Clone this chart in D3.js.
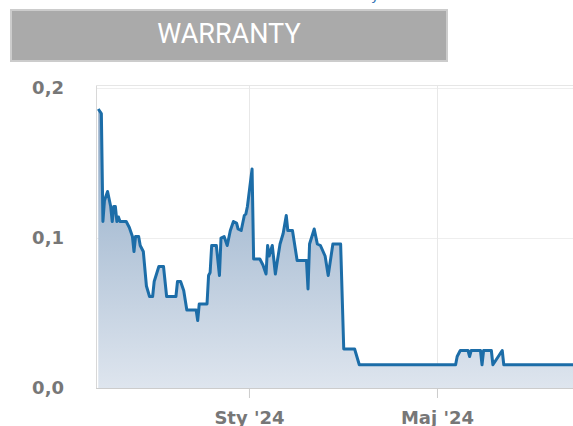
<!DOCTYPE html>
<html>
<head>
<meta charset="utf-8">
<script src="https://cdn.jsdelivr.net/npm/d3@7"></script>
<style>
  html, body { margin: 0; padding: 0; background: #fff; overflow: hidden; }
  svg { display: block; }
</style>
</head>
<body>
<svg id="chart" width="573" height="426"></svg>
<script>
// ---- data ----
const titleText = "WARRANTY";
const dates = [
  "2023-09-26","2023-09-28","2023-09-29","2023-09-30","2023-10-02","2023-10-04","2023-10-05","2023-10-06",
  "2023-10-07","2023-10-08","2023-10-09","2023-10-10","2023-10-14","2023-10-16","2023-10-18","2023-10-19",
  "2023-10-20","2023-10-22","2023-10-23","2023-10-25","2023-10-27","2023-10-29","2023-10-31","2023-11-01",
  "2023-11-04","2023-11-07","2023-11-09","2023-11-15","2023-11-16","2023-11-18","2023-11-20","2023-11-22",
  "2023-11-28","2023-11-29","2023-11-30","2023-12-05","2023-12-06","2023-12-07","2023-12-08","2023-12-11",
  "2023-12-13","2023-12-14","2023-12-16","2023-12-18","2023-12-20","2023-12-22","2023-12-24","2023-12-25",
  "2023-12-27","2023-12-29","2023-12-30","2023-12-31","2024-01-03","2024-01-04","2024-01-08","2024-01-10",
  "2024-01-12","2024-01-13","2024-01-14","2024-01-16","2024-01-18","2024-01-19","2024-01-21","2024-01-23",
  "2024-01-25","2024-01-26","2024-01-29","2024-02-01","2024-02-07","2024-02-08","2024-02-09","2024-02-12",
  "2024-02-14","2024-02-16","2024-02-19","2024-02-21","2024-02-24","2024-02-29","2024-03-02","2024-03-09",
  "2024-03-12","2024-05-13","2024-05-14","2024-05-16","2024-05-21","2024-05-22","2024-05-23","2024-05-29",
  "2024-05-30","2024-05-31","2024-06-05","2024-06-06","2024-06-12","2024-06-13","2024-07-29"
];
const values = [
  0.186,0.183,0.111,0.125,0.131,0.121,0.111,0.121,
  0.121,0.111,0.114,0.111,0.111,0.107,0.101,0.091,
  0.101,0.101,0.095,0.091,0.068,0.061,0.061,0.071,
  0.081,0.081,0.061,0.061,0.071,0.071,0.065,0.052,
  0.052,0.045,0.056,0.056,0.075,0.077,0.095,0.095,
  0.075,0.100,0.101,0.095,0.105,0.111,0.110,0.106,
  0.105,0.115,0.116,0.121,0.146,0.086,0.086,0.082,
  0.076,0.095,0.088,0.095,0.076,0.083,0.096,0.103,
  0.115,0.105,0.105,0.085,0.085,0.066,0.096,0.106,
  0.096,0.095,0.088,0.075,0.096,0.096,0.026,0.026,
  0.0155,0.0155,0.021,0.025,0.025,0.021,0.025,0.025,
  0.0155,0.025,0.025,0.0155,0.025,0.0155,0.0155
];
const yTicks = [0, 0.1, 0.2];
const yTickLabels = ["0,0", "0,1", "0,2"];
const xTickDates = ["2024-01-01", "2024-05-01"];
const xTickLabels = ["Sty '24", "Maj '24"];
const xDomain = ["2023-09-25", "2024-07-28"];

// ---- layout ----
const svg = d3.select("#chart");
const plotLeft = 96, plotTop = 85, plotBottom = 388, plotRight = 573;
const parse = d3.utcParse("%Y-%m-%d");
const data = dates.map((d, i) => ({ date: parse(d), value: values[i] }));

const x = d3.scaleUtc().domain(xDomain.map(parse)).range([96.7, 573.7]);
const y = d3.scaleLinear().domain([0, 0.2]).range([plotBottom, 88]);

// title box
svg.append("rect")
  .attr("x", 11).attr("y", 10).attr("width", 436).attr("height", 51)
  .attr("fill", "#aaaaaa").attr("stroke", "#cccccc").attr("stroke-width", 2);
svg.append("text")
  .attr("x", 229).attr("y", 36)
  .attr("text-anchor", "middle").attr("dominant-baseline", "middle")
  .attr("font-family", "Roboto, 'Open Sans', sans-serif")
  .attr("font-size", 27).attr("fill", "#ffffff")
  .text(titleText);
// cropped link text fragment at top
svg.append("text")
  .attr("x", 371).attr("y", 0)
  .attr("font-family", "DejaVu Sans, sans-serif")
  .attr("font-size", 14).attr("fill", "#2f72b4")
  .text("y");

// gradient
const defs = svg.append("defs");
const grad = defs.append("linearGradient")
  .attr("id", "areaGrad").attr("gradientUnits", "userSpaceOnUse")
  .attr("x1", 0).attr("x2", 0).attr("y1", y(0.2)).attr("y2", y(0));
grad.append("stop").attr("offset", "0%").attr("stop-color", "#86a3c2");
grad.append("stop").attr("offset", "100%").attr("stop-color", "#dee5ee");
defs.append("clipPath").attr("id", "plotClip")
  .append("rect").attr("x", plotLeft).attr("y", plotTop)
  .attr("width", plotRight - plotLeft).attr("height", plotBottom - plotTop);

// gridlines
const grid = svg.append("g");
grid.selectAll("line.h").data(yTicks.filter(t => t > 0)).join("line")
  .attr("x1", plotLeft).attr("x2", plotRight)
  .attr("y1", d => Math.round(y(d)) + 0.5).attr("y2", d => Math.round(y(d)) + 0.5)
  .attr("stroke", "#eeeeee").attr("stroke-width", 1);
grid.selectAll("line.v").data(xTickDates.map(parse)).join("line")
  .attr("x1", d => Math.round(x(d)) + 0.5).attr("x2", d => Math.round(x(d)) + 0.5)
  .attr("y1", plotTop).attr("y2", plotBottom)
  .attr("stroke", "#e8e8e8").attr("stroke-width", 1);

// plot frame (top & left)
svg.append("line").attr("x1", plotLeft + 0.5).attr("x2", plotLeft + 0.5)
  .attr("y1", plotTop).attr("y2", plotBottom).attr("stroke", "#d8d8d8");
svg.append("line").attr("x1", plotLeft).attr("x2", plotRight)
  .attr("y1", plotTop + 0.5).attr("y2", plotTop + 0.5).attr("stroke", "#e6e6e6");

// area & line
const plot = svg.append("g").attr("clip-path", "url(#plotClip)");
plot.append("path").datum(data)
  .attr("d", d3.area().x(d => x(d.date)).y0(y(0)).y1(d => y(d.value)))
  .attr("fill", "url(#areaGrad)");
plot.append("path").datum(data)
  .attr("d", d3.line().x(d => x(d.date)).y(d => y(d.value)))
  .attr("fill", "none").attr("stroke", "#1c6da8").attr("stroke-width", 3)
  .attr("stroke-linejoin", "round");

// x axis
const xAxis = d3.axisBottom(x)
  .tickValues(xTickDates.map(parse))
  .tickFormat((d, i) => xTickLabels[i])
  .tickSize(10).tickSizeOuter(0).tickPadding(13);
const gx = svg.append("g").attr("transform", `translate(0,${plotBottom})`).call(xAxis);
gx.select(".domain").attr("stroke", "#cccccc").attr("d", `M${plotLeft},0.5H${plotRight}`);
gx.selectAll(".tick line").attr("stroke", "#cccccc");
gx.selectAll(".tick text")
  .attr("font-family", "DejaVu Sans, sans-serif").attr("font-weight", "bold")
  .attr("font-size", 18).attr("fill", "#777777");

// y axis labels
const yAxis = d3.axisLeft(y).tickValues(yTicks)
  .tickFormat((d, i) => yTickLabels[i]).tickSize(0).tickPadding(0);
const gy = svg.append("g").attr("transform", "translate(64,0)").call(yAxis);
gy.select(".domain").remove();
gy.selectAll(".tick text")
  .attr("font-family", "DejaVu Sans, sans-serif").attr("font-weight", "bold")
  .attr("font-size", 18).attr("fill", "#777777");
</script>
</body>
</html>
